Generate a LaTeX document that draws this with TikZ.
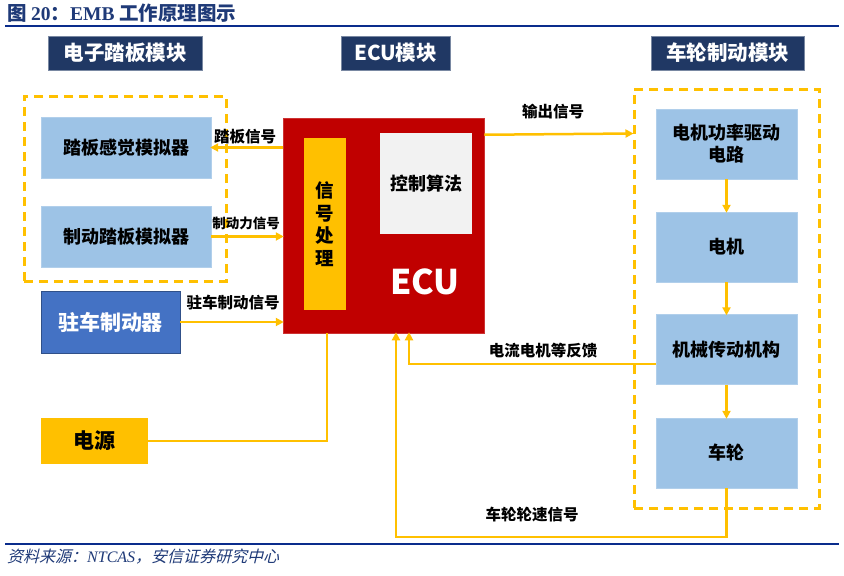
\documentclass[tikz,border=0pt]{standalone}
\usepackage{fontspec}
\setmainfont{Noto Sans CJK SC}
\newfontfamily\srcfont[FakeSlant=0.25]{Noto Sans CJK SC}
\newfontfamily\latinserif{Liberation Serif}
\newfontfamily\latinserifit{Liberation Serif Italic}
\usetikzlibrary{arrows.meta}
\definecolor{cyel}{HTML}{FFC000}
\definecolor{clblue}{HTML}{9DC3E6}
\definecolor{cnavy}{HTML}{203864}
\definecolor{cblue}{HTML}{4472C4}
\definecolor{cred}{HTML}{C00000}
\definecolor{cgray}{HTML}{F2F2F2}
\definecolor{ctitle}{HTML}{1F3A78}
\definecolor{cline}{HTML}{0A2C8C}
\newcommand\myfs[2]{\fontsize{#1}{#2}\selectfont}
\tikzset{
  header/.style={fill=cnavy, draw=cnavy!60!white, line width=0.6pt, text=white, font=\myfs{20.5}{22}\bfseries, inner sep=0pt, minimum height=34pt},
  lbox/.style={fill=clblue, draw=clblue!80!white, line width=0.4pt, font=\myfs{18}{22}\bfseries, inner sep=0pt, align=center},
  dashbox/.style={draw=cyel, line width=3pt, dash pattern=on 9pt off 6pt},
  conn/.style={draw=cyel, line width=2.5pt},
  arr/.style={conn, -{Triangle[length=8pt,width=8pt]}, shorten >=-1pt},
  lab/.style={font=\myfs{15.5}{17}\bfseries, inner sep=0pt},
}
\begin{document}
\begin{tikzpicture}[x=1pt,y=-1pt]
\useasboundingbox (0,0) rectangle (844,576);
\fill[white] (0,0) rectangle (844,576);
% title and rules
\node[anchor=west, text=ctitle, font=\myfs{19.5}{21}\bfseries, inner sep=0pt] (title) at (7,13) {图 {\latinserif\bfseries 20}：{\latinserif\bfseries EMB} 工作原理图示};
\draw[cline, line width=1.2pt] (5,26) -- (839,26);
\draw[cline, line width=1.2pt] (5,544) -- (839,544);
\node[anchor=west, text=ctitle, font=\myfs{16}{18}, inner sep=0pt] (src) at (7,557) {\srcfont 资料来源：{\latinserifit NTCAS}，安信证券研究中心};
% headers
\node[header, minimum width=154pt] (h1) at (125,53) {电子踏板模块};
\node[header, minimum width=109pt] (h2) at (395.5,53) {ECU模块};
\node[header, minimum width=153pt] (h3) at (727.5,53) {车轮制动模块};
% dashed groups
\node[dashbox, minimum width=202pt, minimum height=185pt, inner sep=0pt] (lgrp) at (125,188.5) {};
\node[dashbox, minimum width=185pt, minimum height=419pt, inner sep=0pt] (rbox) at (726.5,298.5) {};
% left boxes
\node[lbox, minimum width=170pt, minimum height=61pt] (feel) at (126,147.5) {踏板感觉模拟器};
\node[lbox, minimum width=170pt, minimum height=61pt] (sim) at (126,236.5) {制动踏板模拟器};
\node[fill=cblue, draw=cblue!70!black, line width=0.6pt, text=white, font=\myfs{21}{22}\bfseries, inner sep=0pt, minimum width=139pt, minimum height=62pt] (park) at (110.5,322) {驻车制动器};
\node[fill=cyel, font=\myfs{21}{22}\bfseries, inner sep=0pt, minimum width=107pt, minimum height=46pt] (power) at (94.5,441) {电源};
% ECU
\node[fill=cred, draw=cred!80!white, line width=0.5pt, inner sep=0pt, minimum width=201pt, minimum height=215pt] (ecu) at (383.5,225.5) {};
\node[fill=cyel, inner sep=0pt, minimum width=42pt, minimum height=172pt, font=\myfs{18.5}{22.5}\bfseries, align=center] (sig) at (325,224) {信\\号\\处\\理};
\node[fill=cgray, inner sep=0pt, minimum width=92pt, minimum height=101pt, font=\myfs{18}{20}\bfseries] (ctrl) at (426,183.5) {控制算法};
\node[text=white, font=\myfs{34}{36}\bfseries, inner sep=0pt] (ecut) at (425,282) {ECU};
% right boxes
\node[lbox, minimum width=141pt, minimum height=70pt] (b1) at (726.5,144) {电机功率驱动\\电路};
\node[lbox, minimum width=141pt, minimum height=70pt] (b2) at (726.5,247) {电机};
\node[lbox, minimum width=141pt, minimum height=70pt] (b3) at (726.5,349.5) {机械传动机构};
\node[lbox, minimum width=141pt, minimum height=70pt] (b4) at (726.5,453) {车轮};
% connectors
\draw[arr] (ecu.west |- feel.east) -- (feel.east);
\draw[arr] (sim.east) -- (ecu.west |- sim.east);
\draw[arr] (park.east) -- (ecu.west |- park.east);
\draw[arr] ([yshift=-17pt]ecu.north east) -- ([yshift=-46pt]rbox.north west);
\draw[arr] (b1.south) -- (b2.north);
\draw[arr] (b2.south) -- (b3.north);
\draw[arr] (b3.south) -- (b4.north);
\draw[arr] ([yshift=-14.5pt]b3.west) -| ([xshift=25.5pt]ecu.south);
\draw[arr] (b4.south) -- ++(0,49) -| ([xshift=12.5pt]ecu.south);
\draw[conn] (power.east) -| ([xshift=-56.5pt]ecu.south);
% labels
\node[lab] (l1) at (245,137) {踏板信号};
\node[lab, font=\myfs{13.5}{15}\bfseries] (l2) at (246,223) {制动力信号};
\node[lab] (l3) at (233,303) {驻车制动信号};
\node[lab] (l4) at (553,112) {输出信号};
\node[lab] (l5) at (543,351) {电流电机等反馈};
\node[lab] (l6) at (532,515) {车轮轮速信号};
\end{tikzpicture}
\end{document}
